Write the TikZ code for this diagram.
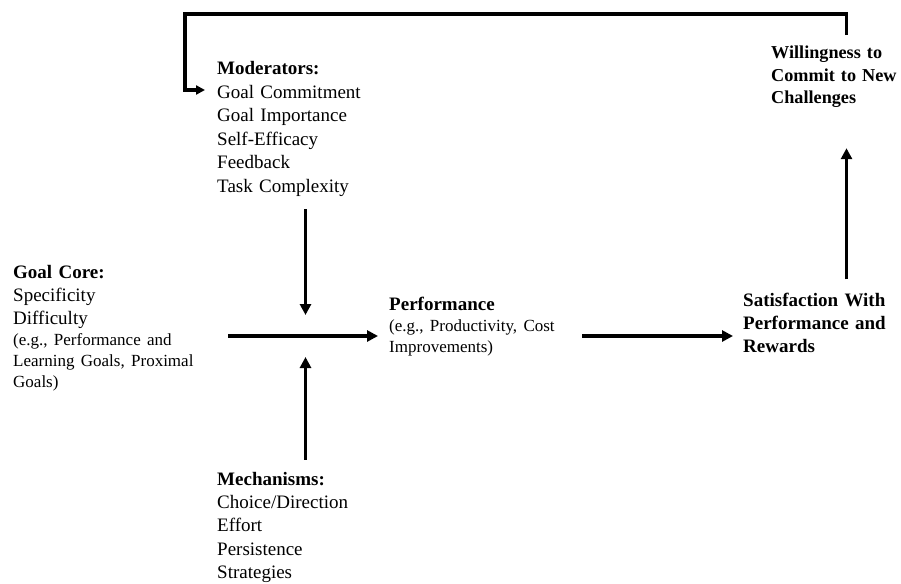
\documentclass[tikz,border=0pt]{standalone}
\usepackage{fontspec}
\setmainfont{Liberation Serif}
\usetikzlibrary{arrows.meta}
\newcommand\bodysize{\fontsize{19}{23.4}\selectfont}
\newcommand\notesize{\fontsize{17}{21}\selectfont}
\newcommand\cornersize{\fontsize{18.2}{22.5}\selectfont}

\begin{document}
\begin{tikzpicture}[x=1pt,y=-1pt,
  block/.style={anchor=base west, inner sep=0pt, align=left, font=\bodysize},
  flow/.style={line width=3.2pt, -{Triangle[length=11pt,width=11pt]}},
  loopback/.style={line width=3.2pt, line join=miter, -{Triangle[length=9pt,width=9pt]}},
]
\useasboundingbox (0,0) rectangle (901,583);

% text blocks
\node[block, text width=200pt] (goal) at (13,278)
  {\textbf{Goal Core:}\par Specificity\par Difficulty\par
   \notesize (e.g., Performance and\par Learning Goals, Proximal\par Goals)\par};
\node[block, text width=170pt] (mod) at (217,75)
  {\textbf{Moderators:}\par Goal Commitment\par Goal Importance\par
   Self-Efficacy\par Feedback\par Task Complexity};
\node[block, text width=170pt] (mech) at (217,485)
  {\textbf{Mechanisms:}\par Choice/Direction\par Effort\par
   Persistence\par Strategies};
\node[block, text width=185pt] (perf) at (389,310)
  {\textbf{Performance}\par
   \notesize (e.g., Productivity, Cost\par Improvements)\par};
\node[block, text width=155pt] (sat) at (743,306)
  {\bfseries Satisfaction With\par Performance and\par Rewards};
\node[block, text width=150pt, font=\cornersize] (will) at (771,59)
  {\bfseries Willingness to\par Commit to New\par Challenges\par};

% junction and loop corners
\coordinate (hub) at (305.5,336);
\coordinate (rail) at (846.5,14);
\coordinate (loopL) at (185,14);

% main chain
\draw[flow, shorten <=15pt, shorten >=11pt] (goal.east |- hub) -- (perf.west |- hub);
\draw[flow, shorten <=13pt, shorten >=21pt] (mod.south -| hub) -- (hub);
\draw[flow, shorten <=12pt, shorten >=21pt] (mech.north -| hub) -- (hub);
\draw[flow, shorten <=8pt, shorten >=10pt] (perf.east |- hub) -- (sat.west |- hub);
\draw[flow, shorten <=13pt, shorten >=40pt] (sat.north -| rail) -- (will.south -| rail);

% feedback loop back to the moderators
\draw[loopback, shorten <=11pt, shorten >=12pt]
  (will.north -| rail) -- (rail) -- (loopL) |- ([yshift=-15pt]mod.base west);
\end{tikzpicture}
\end{document}
